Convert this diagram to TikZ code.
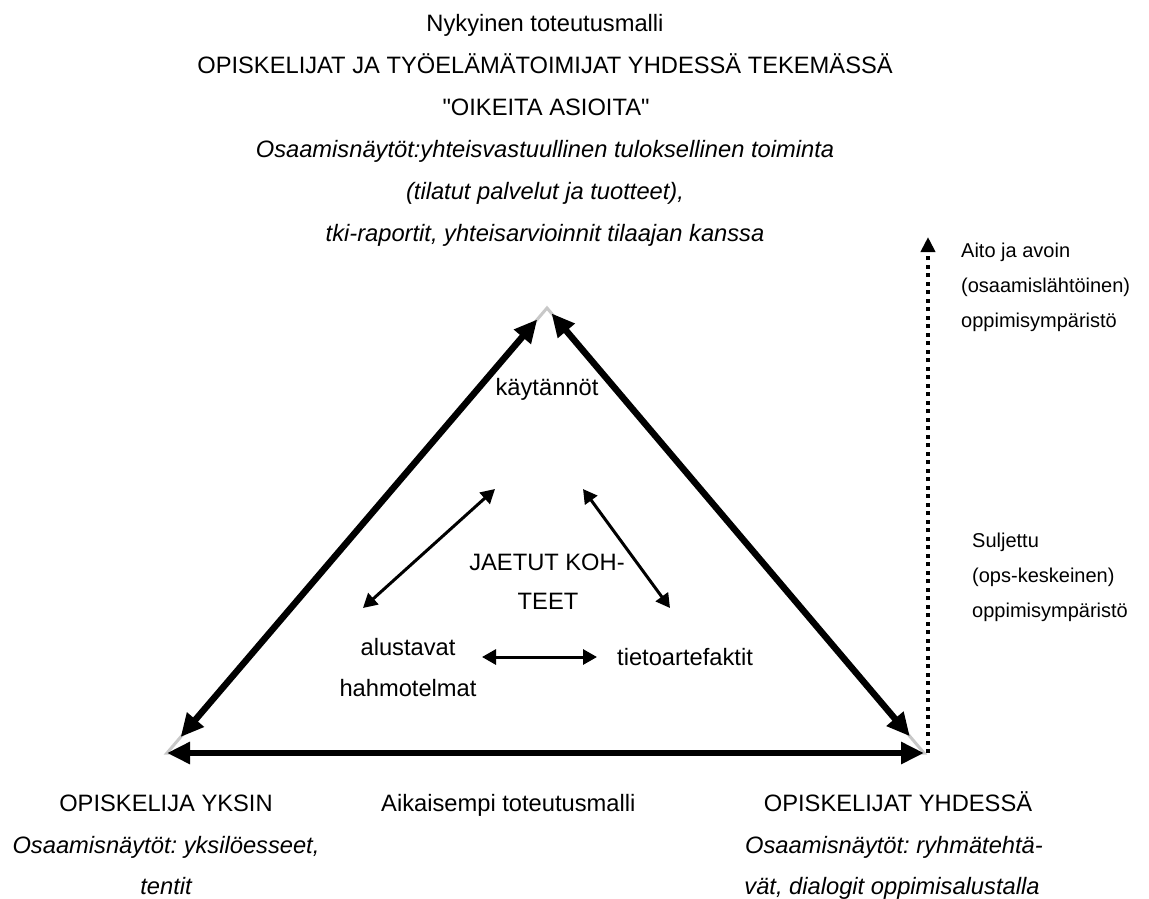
\documentclass[tikz,border=0pt]{standalone}
\usepackage{fontspec}
\setmainfont{Liberation Sans}[Ligatures=TeXOff]
\usetikzlibrary{arrows.meta}
\definecolor{outlinegrey}{RGB}{200,200,200}
\frenchspacing
\begin{document}
\begin{tikzpicture}[x=1pt,y=-1pt,
  lbl/.style={font=\fontsize{23.7}{28}\selectfont, anchor=base, inner sep=0pt},
  lbli/.style={font=\fontsize{23.7}{28}\selectfont\itshape, anchor=base, inner sep=0pt},
  lblw/.style={font=\fontsize{23.7}{28}\selectfont, anchor=base west, inner sep=0pt},
  side/.style={font=\fontsize{20}{24}\selectfont, anchor=base west, inner sep=0pt},
  bigarrow/.style={line width=6.5pt, {Triangle[length=23pt,width=21pt]}-{Triangle[length=23pt,width=21pt]}},
  smallarrow/.style={line width=3pt, {Triangle[length=14pt,width=15pt]}-{Triangle[length=14pt,width=15pt]}},
  dotarrow/.style={line width=4pt, dash pattern=on 4pt off 4.5pt, -{Triangle[length=15pt,width=14pt]}},
  outline/.style={draw=outlinegrey, line width=3pt, line join=miter}
]
\useasboundingbox (0,0) rectangle (1149,898);

% corners
\coordinate (A) at (547,308);
\coordinate (B) at (167,753);
\coordinate (C) at (924,753);

% grey triangle outline
\draw[outline] (A) -- (B) -- (C) -- cycle;

% thick double arrows along the sides
\draw[bigarrow, shorten <=15pt, shorten >=21pt] (A) -- (B);
\draw[bigarrow, shorten <=7pt, shorten >=22pt] (A) -- (C);
\draw[bigarrow] (B) -- (C);

% dotted vertical arrow
\coordinate (D0) at (928,753);
\coordinate (D1) at (928,237);
\draw[dotarrow] (D0) -- (D1);

% top texts
\node[lbl]  (t1) at (545,31)  {Nykyinen toteutusmalli};
\node[lbl]  (t2) at (545,73)  {OPISKELIJAT JA TYÖELÄMÄTOIMIJAT YHDESSÄ TEKEMÄSSÄ};
\node[lbl]  (t3) at (546,115) {"OIKEITA ASIOITA"};
\node[lbli] (t4) at (545,157) {Osaamisnäytöt:yhteisvastuullinen tuloksellinen toiminta};
\node[lbli] (t5) at (545,199) {(tilatut palvelut ja tuotteet),};
\node[lbli] (t6) at (545,241) {tki-raportit, yhteisarvioinnit tilaajan kanssa};

% inner texts
\node[lbl] (k)  at (547,395) {käytännöt};
\node[lbl] (j1) at (547,570) {JAETUT KOH-};
\node[lbl] (j2) at (548,609) {TEET};
\node[lbl] (a1) at (408,655) {alustavat};
\node[lbl] (a2) at (408,696) {hahmotelmat};
\node[lblw] (ta) at (617,665) {tietoartefaktit};

% inner arrow end points
\coordinate (p1) at (495,489);
\coordinate (p2) at (363,608);
\coordinate (q1) at (583,489);
\coordinate (q2) at (670,608);
\coordinate (r1) at (482,657);
\coordinate (r2) at (597,657);
\draw[smallarrow] (p1) -- (p2);
\draw[smallarrow] (q1) -- (q2);
\draw[smallarrow] (r1) -- (r2);

% bottom texts
\node[lbl]  (bl1) at (166,811) {OPISKELIJA YKSIN};
\node[lbli] (bl2) at (166,853) {Osaamisnäytöt: yksilöesseet,};
\node[lbli] (bl3) at (166,894) {tentit};
\node[lblw] (bm)  at (381,811) {Aikaisempi toteutusmalli};
\node[lbl]  (br1) at (898,811) {OPISKELIJAT YHDESSÄ};
\node[lbli] (br2) at (894,853) {Osaamisnäytöt: ryhmätehtä-};
\node[lbli] (br3) at (892,894) {vät, dialogit oppimisalustalla};

% right texts
\node[side] (s1) at (961,257) {Aito ja avoin};
\node[side] (s2) at (961,292) {(osaamislähtöinen)};
\node[side] (s3) at (961,327) {oppimisympäristö};
\node[side] (u1) at (972,547) {Suljettu};
\node[side] (u2) at (972,582) {(ops-keskeinen)};
\node[side] (u3) at (972,617) {oppimisympäristö};
\end{tikzpicture}
\end{document}
